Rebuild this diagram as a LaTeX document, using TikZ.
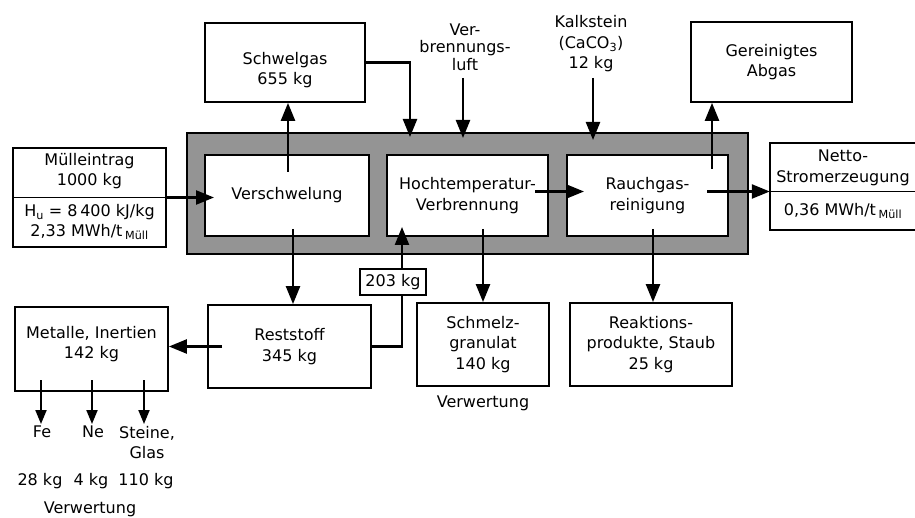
\documentclass[tikz,border=0pt]{standalone}
\usepackage{fontspec}
\setmainfont{DejaVu Sans}
\usetikzlibrary{arrows.meta,calc}
\newcommand\lbl{\fontsize{16}{20.5}\selectfont}
\begin{document}
\begin{tikzpicture}[x=1pt,y=-1pt,
 box/.style={draw,line width=1.8pt,fill=white,inner sep=0pt,align=center,font=\lbl},
 txt/.style={inner sep=0pt,align=center,font=\lbl},
 band/.style={draw,line width=2pt,fill=black!42,inner sep=0pt},
 ln/.style={line width=2.4pt},
 arr/.style={line width=2.4pt,-{Triangle[length=18pt,width=14pt]}},
 sarr/.style={line width=2pt,-{Triangle[length=14pt,width=11pt]}},
]
\useasboundingbox (0,0) rectangle (915,518);
\fill[white] (0,0) rectangle (915,518);

% gray process band
\node[band,minimum width=561pt,minimum height=121pt] (band) at (467.5,193.5) {};
\node[box,minimum width=164pt,minimum height=81pt] (versch) at (287,195.5) {Verschwelung};
\node[box,minimum width=161pt,minimum height=81pt] (hoch) at (467.5,195.5) {Hochtemperatur-\\Verbrennung};
\node[box,minimum width=161pt,minimum height=81pt] (rauch) at (647.5,195.5) {Rauchgas-\\reinigung};

% input box
\node[box,minimum width=153pt,minimum height=99pt] (muell) at (89.5,197.5) {};
\draw[line width=1.8pt] (muell.west) -- (muell.east);
\node[txt] (muellA) at (89.5,171) {Mülleintrag\\1000 kg};
\node[txt] (muellB) at (89.5,222) {H\textsubscript{u} = 8\,400 kJ/kg\\2,33 MWh/t\,\textsubscript{Müll}};

% top boxes
\node[box,minimum width=160pt,minimum height=79pt] (schw) at (285,62.5) {};
\node[txt] (schwt) at (285,70) {Schwelgas\\655 kg};
\node[txt,font=\fontsize{16}{17.5}\selectfont] (luft) at (465,47) {Ver-\\brennungs-\\luft};
\node[txt] (kalk) at (591,44) {Kalkstein\\(CaCO\textsubscript{3})\\12 kg};
\node[box,minimum width=161pt,minimum height=80pt] (abgas) at (771.5,62) {Gereinigtes\\Abgas};

% output box right
\node[inner sep=0pt,minimum width=145pt,minimum height=87pt] (netto) at (842.5,186.5) {};
\coordinate (rauchOut) at (707,191.5);
\draw[line width=1.8pt] (netto.north east) -- (netto.north west) -- (netto.south west) -- (netto.south east);
\draw[line width=1.8pt] (netto.west |- rauchOut) -- (netto.east |- rauchOut);
\node[txt] (nettoA) at (843,168) {Netto-\\Stromerzeugung};
\node[txt] (nettoB) at (843,211) {0,36 MWh/t\,\textsubscript{Müll}};

% bottom boxes
\node[box,minimum width=163pt,minimum height=83pt] (rest) at (289.5,346.5) {Reststoff\\345 kg};
\node[box,minimum width=132pt,minimum height=83pt] (schm) at (483,344.5) {Schmelz-\\granulat\\140 kg};
\node[box,minimum width=162pt,minimum height=83pt] (reak) at (651,344.5) {Reaktions-\\produkte, Staub\\25 kg};
\node[box,minimum width=153pt,minimum height=84pt] (met) at (91.5,349) {};
\node[txt] (mett) at (91.5,344) {Metalle, Inertien\\142 kg};
\node[box,line width=1.5pt,minimum width=66pt,minimum height=26pt] (kg) at (393,282) {203 kg};

\node[txt] (verw2) at (483,403) {Verwertung};
\node[txt,anchor=north] (fe) at (42,426) {Fe};
\node[txt,anchor=north] (ne) at (93,426) {Ne};
\node[txt,anchor=north] (st) at (147,426) {Steine,\\Glas};
\node[txt] (fekg) at (40,481) {28 kg};
\node[txt] (nekg) at (91,481) {4 kg};
\node[txt] (stkg) at (146,481) {110 kg};
\node[txt] (verw1) at (90,509) {Verwertung};

% free ends
\coordinate (verschIn) at (214,197.5);
\coordinate (verschUp) at (288,172);
\coordinate (verschDn) at (293,229);
\coordinate (schwIn) at (410,137);
\coordinate (luftTop) at (463,78);
\coordinate (luftIn) at (463,138);
\coordinate (kalkTop) at (593,78);
\coordinate (kalkIn) at (593,140);
\coordinate (hochOut) at (535,191.5);
\coordinate (rauchIn) at (584,191.5);
\coordinate (rauchUp) at (712,169);
\coordinate (hochDn) at (483,229);
\coordinate (rauchDn) at (653,229);
\coordinate (hochIn) at (402,227);
\coordinate (restL) at (222,346.5);
\coordinate (feTop) at (41,380);
\coordinate (neTop) at (92,380);
\coordinate (stTop) at (144,380);

% connectors
\draw[arr] (muell.east) -- (verschIn);
\draw[arr] (verschUp) -- (verschUp |- schw.south);
\draw[arr] (schw.east) -| (schwIn);
\draw[arr] (luftTop) -- (luftIn);
\draw[arr] (kalkTop) -- (kalkIn);
\draw[arr] (hochOut) -- (rauchIn);
\draw[arr] (rauchUp) -- (rauchUp |- abgas.south);
\draw[arr] (rauchOut) -- (netto.west |- rauchOut);
\draw[arr] (verschDn) -- (verschDn |- rest.north);
\draw[arr] (hochDn) -- (hochDn |- schm.north);
\draw[arr] (rauchDn) -- (rauchDn |- reak.north);
\draw[ln] (rest.east) -| ([xshift=9pt]kg.south);
\draw[arr] ([xshift=9pt]kg.north) -- (hochIn);
\draw[arr] (restL) -- (restL -| met.east);
\draw[sarr] (feTop) -- ([yshift=2pt]fe.north -| feTop);
\draw[sarr] (neTop) -- ([yshift=2pt]ne.north -| neTop);
\draw[sarr] (stTop) -- ([yshift=2pt]st.north -| stTop);
\end{tikzpicture}
\end{document}
